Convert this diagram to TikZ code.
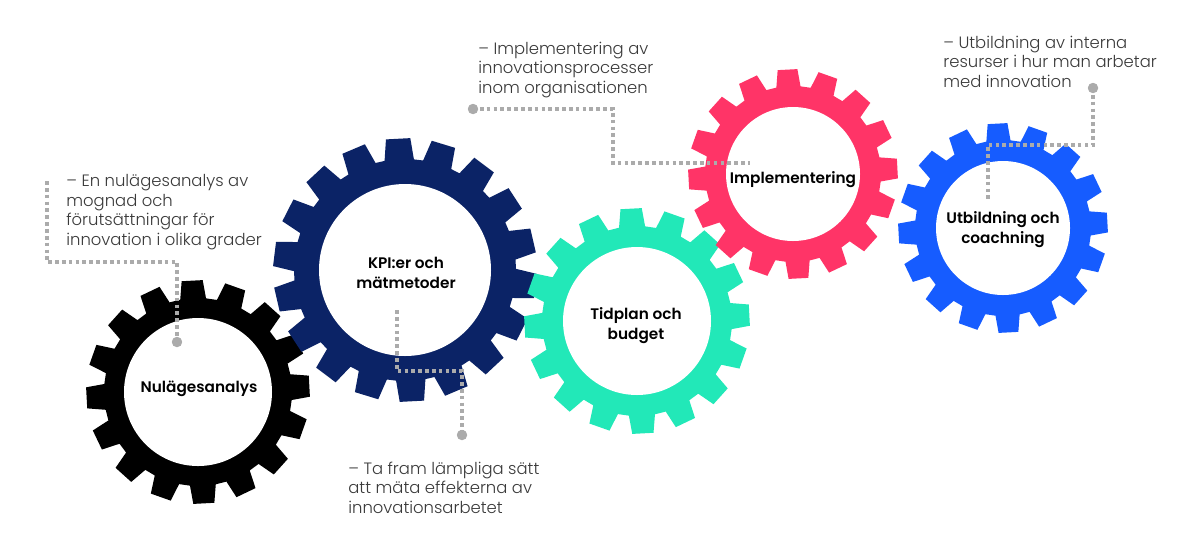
\documentclass[tikz,border=0pt]{standalone}
\usepackage{fontspec}
\setmainfont{Poppins}
\newfontfamily\gearfont{Poppins SemiBold}
\newfontfamily\notefont{Poppins Light}
\definecolor{gblack}{HTML}{000000}
\definecolor{gnavy}{HTML}{0B2366}
\definecolor{gteal}{HTML}{22E8B8}
\definecolor{gpink}{HTML}{FF3467}
\definecolor{gblue}{HTML}{165CFF}
\definecolor{dotgray}{HTML}{ABABAB}
\definecolor{notegray}{HTML}{3A3A3A}
% #1 name, #2 centre, #3 tip r, #4 root r, #5 hole r, #6 teeth, #7 tip half angle, #8 root half angle, #9 colour
\newcommand\drawgear[9]{%
  \coordinate (#1) at (#2);
  \begin{scope}[shift={(#1)}]
    \pgfmathsetmacro\gp{360/#6}
    \pgfmathtruncatemacro\gn{#6-1}
    \def\ph{-93}
    \fill[#9] ({\ph-#8}:#4)
      \foreach \k in {0,...,\gn}{
        -- ({\ph+\k*\gp-#8}:#4) -- ({\ph+\k*\gp-#7}:#3)
        -- ({\ph+\k*\gp+#7}:#3) -- ({\ph+\k*\gp+#8}:#4)
      } -- cycle;
    \fill[white] (0,0) circle[radius=#5];
  \end{scope}}
\tikzset{
  gearlabel/.style={font=\gearfont\fontsize{8.7}{11.3}\selectfont, align=center, text=black, inner sep=0pt, anchor=base},
  note/.style={font=\notefont\fontsize{9.35}{11.05}\selectfont, align=left, text=notegray, inner sep=0pt, anchor=base west},
  dotline/.style={draw=dotgray, line width=2.1pt, dash pattern=on 2.1pt off 1.8pt},
  enddot/.style={circle, fill=dotgray, minimum size=5.8pt, inner sep=0pt}
}
\begin{document}
\begin{tikzpicture}[x=0.02cm, y=-0.02cm]
\useasboundingbox (0,0) rectangle (1200,559);
\fill[white] (0,0) rectangle (1200,559);

\drawgear{g1}{198,392}{112}{94}{74}{16}{5.4}{7.9}{gblack}
\drawgear{g2}{405,270}{132}{111}{86}{18}{5.3}{7.6}{gnavy}
\drawgear{g3}{637,321}{113}{95}{74}{16}{5.4}{7.9}{gteal}
\drawgear{g4}{793,174}{105}{88}{67}{16}{5.4}{7.9}{gpink}
\drawgear{g5}{1003,228}{105}{88}{67}{16}{5.4}{7.9}{gblue}

% gear labels (anchored at the baseline of the last line)
\node[gearlabel] (l1) at (199,392) {Nulägesanalys};
\node[gearlabel] (l2) at (406,288) {KPI:er och\\mätmetoder};
\node[gearlabel] (l3) at (636,339) {Tidplan och\\budget};
\node[gearlabel] (l4) at (793,183) {Implementering};
\node[gearlabel] (l5) at (1003,243) {Utbildning och\\coachning};

% notes (anchored at the baseline of the last line)
\node[note] (n1) at (66,245) {– En nulägesanalys av\\mognad och\\förutsättningar för\\innovation i olika grader};
\node[note] (n2) at (478,93) {– Implementering av\\innovationsprocesser\\inom organisationen};
\node[note] (n3) at (348,513) {– Ta fram lämpliga sätt\\att mäta effekterna av\\innovationsarbetet};
\node[note] (n4) at (943,87) {– Utbildning av interna\\resurser i hur man arbetar\\med innovation};

% connector points
\coordinate (c1s) at (47,181);
\coordinate (c1b) at (177,262);
\node[enddot] (d1) at (177,342) {};
\node[enddot] (d2) at (473,109) {};
\coordinate (c2b) at (613,163);
\coordinate (c2e) at (750,163);
\coordinate (c3s) at (397,310);
\coordinate (c3b) at (462,371);
\node[enddot] (d3) at (462,435) {};
\node[enddot] (d4) at (1093,88) {};
\coordinate (c4b) at (988,145);
\coordinate (c4e) at (988,202);

\draw[dotline] (c1s) |- (c1b) -- (d1.center);
\draw[dotline] (d2.center) -| (c2b) -- (c2e);
\draw[dotline] (c3s) |- (c3b) -- (d3.center);
\draw[dotline] (d4.center) |- (c4b) -- (c4e);

\node[enddot] at (d1) {};
\node[enddot] at (d2) {};
\node[enddot] at (d3) {};
\node[enddot] at (d4) {};
\end{tikzpicture}
\end{document}
